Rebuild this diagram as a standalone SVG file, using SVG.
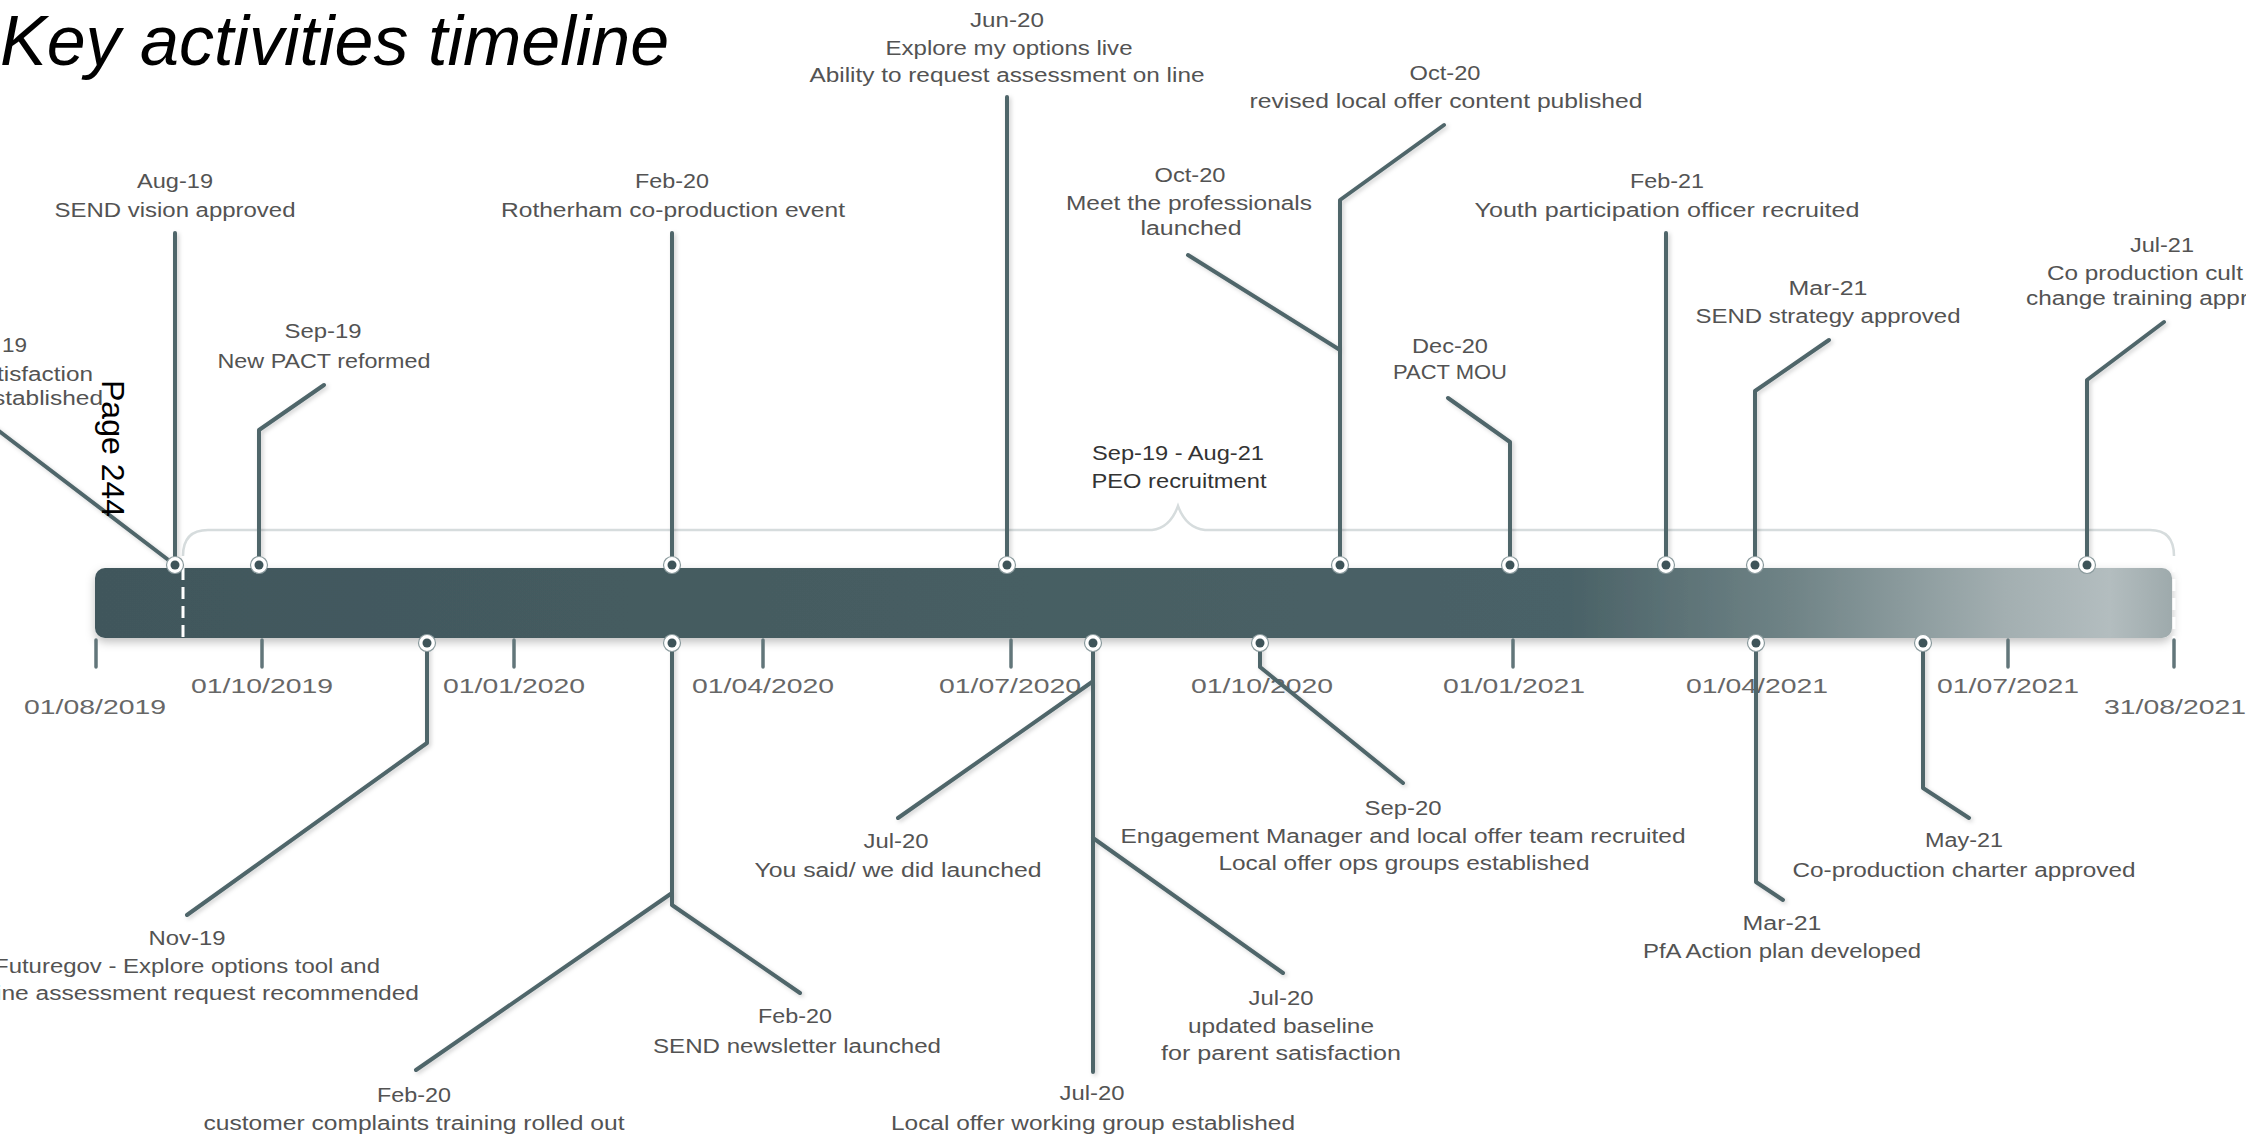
<svg xmlns="http://www.w3.org/2000/svg" xmlns:xlink="http://www.w3.org/1999/xlink" width="2246" height="1136" viewBox="0 0 2246 1136">
<style>
text{font-family:"Liberation Sans",Arial,sans-serif}
.l{font-size:19.5px;fill:#535353;text-anchor:middle}
.s{text-anchor:start}
.e{text-anchor:end}
.d{font-size:21px;fill:#676767;text-anchor:middle}
.p{fill:#333}
.ln{stroke:#50666b;stroke-width:4;fill:none;stroke-linecap:round;stroke-linejoin:round}
.tk{stroke:#62767a;stroke-width:3.5;stroke-linecap:round}
</style>
<defs>
<linearGradient id="bg" x1="95" y1="0" x2="2172" y2="0" gradientUnits="userSpaceOnUse">
<stop offset="0" stop-color="#41575c"/>
<stop offset="0.71" stop-color="#4a6267"/>
<stop offset="0.816" stop-color="#6f8386"/>
<stop offset="0.92" stop-color="#a3afb1"/>
<stop offset="0.97" stop-color="#b3bdbf"/>
<stop offset="1" stop-color="#9eaaac"/>
</linearGradient>
<filter id="sh" x="-5%" y="-50%" width="110%" height="200%"><feDropShadow dx="0" dy="4" stdDeviation="5" flood-color="#000" flood-opacity="0.25"/></filter>
<filter id="lsh" x="-20%" y="-20%" width="140%" height="140%"><feDropShadow dx="2" dy="2" stdDeviation="2" flood-color="#000" flood-opacity="0.18"/></filter>
<g id="mk"><circle r="8.5" fill="#fff" stroke="#8a9a9d" stroke-width="1.2"/><circle r="4.5" fill="#3e5459"/></g>
</defs>
<rect width="2246" height="1136" fill="#fff"/>
<text x="0" y="65" font-size="70" font-style="italic" fill="#000">Key activities timeline</text>

<g id="bar">
<path d="M183 556 Q183 530 208 530 L1152 530 Q1170 528 1178 506 Q1186 528 1205 530 L2150 530 Q2174 530 2174 556" fill="none" stroke="#d6dcdd" stroke-width="2.5"/>
<rect x="95" y="568" width="2077" height="70" rx="10" fill="url(#bg)" filter="url(#sh)"/>
<line x1="183" y1="568" x2="183" y2="638" stroke="#fff" stroke-width="3" stroke-dasharray="12,7"/>
<line x1="2174" y1="560" x2="2174" y2="640" stroke="#fff" stroke-width="3" stroke-dasharray="12,7"/>
<g>
<line class="tk" x1="96" y1="640" x2="96" y2="667"/>
<line class="tk" x1="262" y1="640" x2="262" y2="667"/>
<line class="tk" x1="514" y1="640" x2="514" y2="667"/>
<line class="tk" x1="763" y1="640" x2="763" y2="667"/>
<line class="tk" x1="1011" y1="640" x2="1011" y2="667"/>
<line class="tk" x1="1260" y1="640" x2="1260" y2="667"/>
<line class="tk" x1="1513" y1="640" x2="1513" y2="667"/>
<line class="tk" x1="1756" y1="640" x2="1756" y2="667"/>
<line class="tk" x1="2008" y1="640" x2="2008" y2="667"/>
<line class="tk" x1="2174" y1="640" x2="2174" y2="667"/>
</g>
<text class="d" x="95" y="714" textLength="142" lengthAdjust="spacingAndGlyphs">01/08/2019</text>
<text class="d" x="262" y="693" textLength="142" lengthAdjust="spacingAndGlyphs">01/10/2019</text>
<text class="d" x="514" y="693" textLength="142" lengthAdjust="spacingAndGlyphs">01/01/2020</text>
<text class="d" x="763" y="693" textLength="142" lengthAdjust="spacingAndGlyphs">01/04/2020</text>
<text class="d" x="1010" y="693" textLength="142" lengthAdjust="spacingAndGlyphs">01/07/2020</text>
<text class="d" x="1262" y="693" textLength="142" lengthAdjust="spacingAndGlyphs">01/10/2020</text>
<text class="d" x="1514" y="693" textLength="142" lengthAdjust="spacingAndGlyphs">01/01/2021</text>
<text class="d" x="1757" y="693" textLength="142" lengthAdjust="spacingAndGlyphs">01/04/2021</text>
<text class="d" x="2008" y="693" textLength="142" lengthAdjust="spacingAndGlyphs">01/07/2021</text>
<text class="d" x="2175" y="714" textLength="142" lengthAdjust="spacingAndGlyphs">31/08/2021</text>
</g>

<g id="connectors" filter="url(#lsh)">
<path class="ln" d="M-5 428 L175 565"/>
<path class="ln" d="M175 233 V565"/>
<path class="ln" d="M324 385 L259 430 V565"/>
<path class="ln" d="M672 233 V565"/>
<path class="ln" d="M1007 97 V565"/>
<path class="ln" d="M1444 125 L1340 200 V565"/>
<path class="ln" d="M1188 255 L1340 350"/>
<path class="ln" d="M1448 398 L1510 442 V565"/>
<path class="ln" d="M1666 233 V565"/>
<path class="ln" d="M1829 340 L1755 391 V565"/>
<path class="ln" d="M2164 322 L2087 380 V565"/>
<path class="ln" d="M427 643 V743 L187 915"/>
<path class="ln" d="M672 643 V905 M672 893 L416 1070 M672 905 L800 993"/>
<path class="ln" d="M1093 643 V1072 M1092 682 L898 818 M1093 838 L1283 973"/>
<path class="ln" d="M1260 643 V667 L1403 783"/>
<path class="ln" d="M1756 643 V882 L1783 900"/>
<path class="ln" d="M1923 643 V788 L1969 818"/>
</g>

<g id="ev-jul19">
<text class="l e" x="27" y="352" textLength="25" lengthAdjust="spacingAndGlyphs">19</text>
<text class="l e" x="93" y="381" textLength="96" lengthAdjust="spacingAndGlyphs">tisfaction</text>
<text class="l e" x="103" y="405" textLength="110" lengthAdjust="spacingAndGlyphs">stablished</text>
</g>
<g id="ev-aug19">
<use href="#mk" x="175" y="565"/>
<text class="l" x="175" y="188" textLength="76" lengthAdjust="spacingAndGlyphs">Aug-19</text>
<text class="l" x="175" y="217" textLength="241" lengthAdjust="spacingAndGlyphs">SEND vision approved</text>
</g>
<g id="ev-sep19">
<use href="#mk" x="259" y="565"/>
<text class="l" x="323" y="338" textLength="77" lengthAdjust="spacingAndGlyphs">Sep-19</text>
<text class="l" x="324" y="368" textLength="213" lengthAdjust="spacingAndGlyphs">New PACT reformed</text>
</g>
<g id="ev-feb20-top">
<use href="#mk" x="672" y="565"/>
<text class="l" x="672" y="188" textLength="74" lengthAdjust="spacingAndGlyphs">Feb-20</text>
<text class="l" x="673" y="217" textLength="344" lengthAdjust="spacingAndGlyphs">Rotherham co-production event</text>
</g>
<g id="ev-jun20">
<use href="#mk" x="1007" y="565"/>
<text class="l" x="1007" y="27" textLength="74" lengthAdjust="spacingAndGlyphs">Jun-20</text>
<text class="l" x="1009" y="55" textLength="247" lengthAdjust="spacingAndGlyphs">Explore my options live</text>
<text class="l" x="1007" y="82" textLength="395" lengthAdjust="spacingAndGlyphs">Ability to request assessment on line</text>
</g>
<g id="ev-oct20">
<use href="#mk" x="1340" y="565"/>
<text class="l" x="1445" y="80" textLength="71" lengthAdjust="spacingAndGlyphs">Oct-20</text>
<text class="l" x="1446" y="108" textLength="393" lengthAdjust="spacingAndGlyphs">revised local offer content published</text>
<text class="l" x="1190" y="182" textLength="71" lengthAdjust="spacingAndGlyphs">Oct-20</text>
<text class="l" x="1189" y="210" textLength="246" lengthAdjust="spacingAndGlyphs">Meet the professionals</text>
<text class="l" x="1191" y="235" textLength="101" lengthAdjust="spacingAndGlyphs">launched</text>
</g>
<g id="ev-dec20">
<use href="#mk" x="1510" y="565"/>
<text class="l" x="1450" y="353" textLength="76" lengthAdjust="spacingAndGlyphs">Dec-20</text>
<text class="l" x="1450" y="379" textLength="114" lengthAdjust="spacingAndGlyphs">PACT MOU</text>
</g>
<g id="ev-feb21">
<use href="#mk" x="1666" y="565"/>
<text class="l" x="1667" y="188" textLength="74" lengthAdjust="spacingAndGlyphs">Feb-21</text>
<text class="l" x="1667" y="217" textLength="385" lengthAdjust="spacingAndGlyphs">Youth participation officer recruited</text>
</g>
<g id="ev-mar21-top">
<use href="#mk" x="1755" y="565"/>
<text class="l" x="1828" y="295" textLength="79" lengthAdjust="spacingAndGlyphs">Mar-21</text>
<text class="l" x="1828" y="323" textLength="265" lengthAdjust="spacingAndGlyphs">SEND strategy approved</text>
</g>
<g id="ev-jul21">
<use href="#mk" x="2087" y="565"/>
<text class="l" x="2162" y="252" textLength="64" lengthAdjust="spacingAndGlyphs">Jul-21</text>
<text class="l s" x="2047" y="280" textLength="196" lengthAdjust="spacingAndGlyphs">Co production cult</text>
<text class="l s" x="2026" y="305" textLength="222" lengthAdjust="spacingAndGlyphs">change training appr</text>
</g>
<g id="ev-peo">
<text class="l p" x="1178" y="460" textLength="172" lengthAdjust="spacingAndGlyphs">Sep-19 - Aug-21</text>
<text class="l p" x="1179" y="488" textLength="175" lengthAdjust="spacingAndGlyphs">PEO recruitment</text>
</g>
<g id="ev-nov19">
<use href="#mk" x="427" y="643"/>
<text class="l" x="187" y="945" textLength="77" lengthAdjust="spacingAndGlyphs">Nov-19</text>
<text class="l" x="187" y="973" textLength="386" lengthAdjust="spacingAndGlyphs">Futuregov - Explore options tool and</text>
<text class="l e" x="419" y="1000" textLength="423" lengthAdjust="spacingAndGlyphs">ine assessment request recommended</text>
</g>
<g id="ev-feb20-bottom">
<use href="#mk" x="672" y="643"/>
<text class="l" x="414" y="1102" textLength="74" lengthAdjust="spacingAndGlyphs">Feb-20</text>
<text class="l" x="414" y="1130" textLength="421" lengthAdjust="spacingAndGlyphs">customer complaints training rolled out</text>
<text class="l" x="795" y="1023" textLength="74" lengthAdjust="spacingAndGlyphs">Feb-20</text>
<text class="l" x="797" y="1053" textLength="288" lengthAdjust="spacingAndGlyphs">SEND newsletter launched</text>
</g>
<g id="ev-jul20">
<use href="#mk" x="1093" y="643"/>
<text class="l" x="896" y="848" textLength="65" lengthAdjust="spacingAndGlyphs">Jul-20</text>
<text class="l" x="898" y="877" textLength="287" lengthAdjust="spacingAndGlyphs">You said/ we did launched</text>
<text class="l" x="1281" y="1005" textLength="65" lengthAdjust="spacingAndGlyphs">Jul-20</text>
<text class="l" x="1281" y="1033" textLength="186" lengthAdjust="spacingAndGlyphs">updated baseline</text>
<text class="l" x="1281" y="1060" textLength="240" lengthAdjust="spacingAndGlyphs">for parent satisfaction</text>
<text class="l" x="1092" y="1100" textLength="65" lengthAdjust="spacingAndGlyphs">Jul-20</text>
<text class="l" x="1093" y="1130" textLength="404" lengthAdjust="spacingAndGlyphs">Local offer working group established</text>
</g>
<g id="ev-sep20">
<use href="#mk" x="1260" y="643"/>
<text class="l" x="1403" y="815" textLength="77" lengthAdjust="spacingAndGlyphs">Sep-20</text>
<text class="l" x="1403" y="843" textLength="565" lengthAdjust="spacingAndGlyphs">Engagement Manager and local offer team recruited</text>
<text class="l" x="1404" y="870" textLength="371" lengthAdjust="spacingAndGlyphs">Local offer ops groups established</text>
</g>
<g id="ev-mar21-bottom">
<use href="#mk" x="1756" y="643"/>
<text class="l" x="1782" y="930" textLength="79" lengthAdjust="spacingAndGlyphs">Mar-21</text>
<text class="l" x="1782" y="958" textLength="278" lengthAdjust="spacingAndGlyphs">PfA Action plan developed</text>
</g>
<g id="ev-may21">
<use href="#mk" x="1923" y="643"/>
<text class="l" x="1964" y="847" textLength="78" lengthAdjust="spacingAndGlyphs">May-21</text>
<text class="l" x="1964" y="877" textLength="343" lengthAdjust="spacingAndGlyphs">Co-production charter approved</text>
</g>
<text transform="translate(102,380) rotate(90)" font-size="32" fill="#000">Page 244</text>
</svg>
